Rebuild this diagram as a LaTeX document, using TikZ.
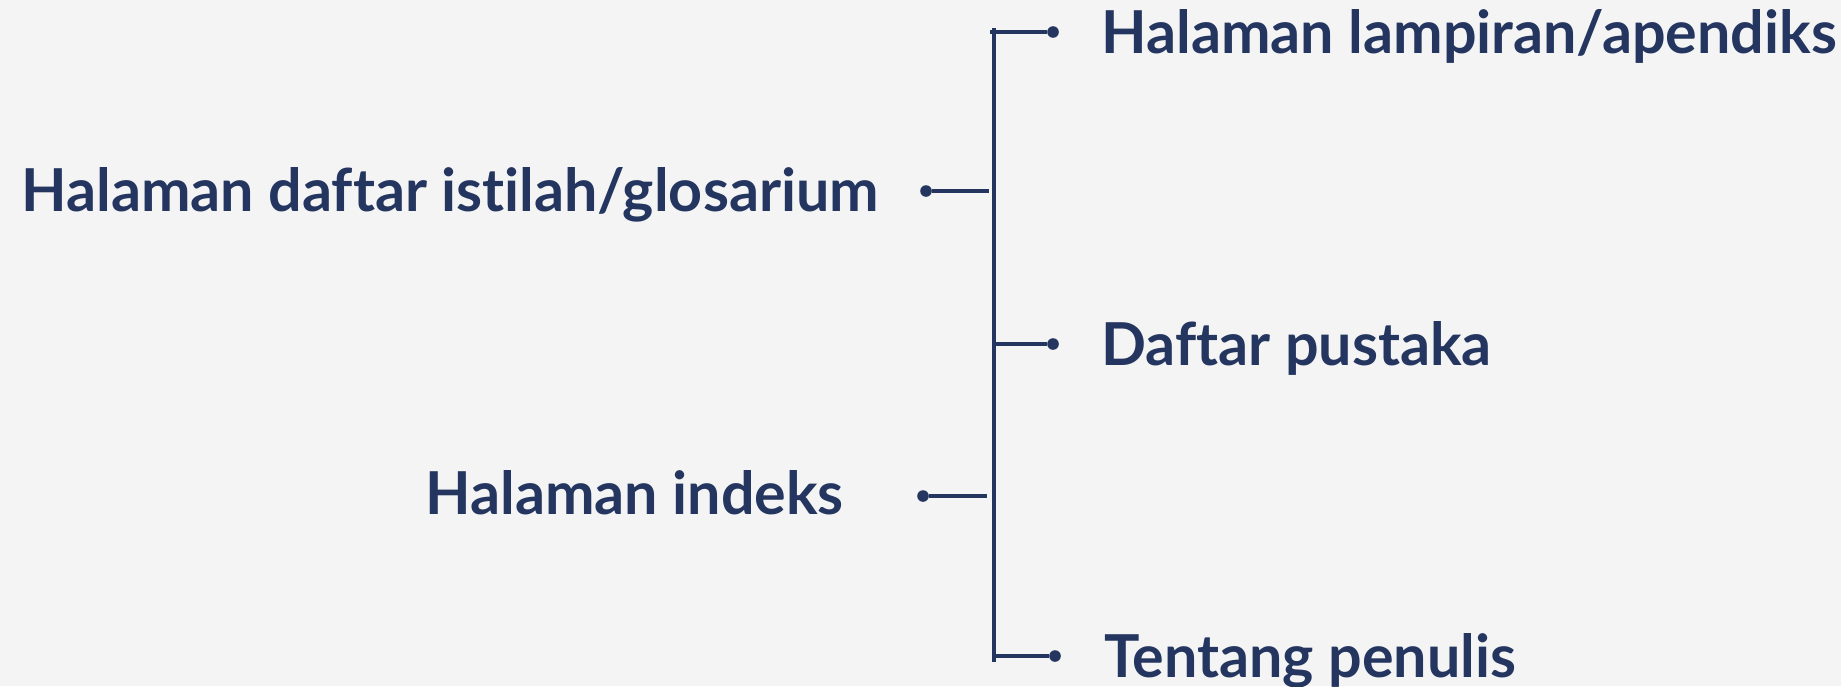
\documentclass[tikz,border=0pt]{standalone}
\usepackage{fontspec}
\setmainfont{Lato}[Ligatures={NoCommon}]
\definecolor{navy}{HTML}{243660}
\definecolor{paper}{HTML}{F4F4F4}
\begin{document}
\begin{tikzpicture}[x=0.5pt,y=-0.5pt,
  lbl/.style={font=\fontsize{29.6}{34}\selectfont\bfseries, text=navy, inner sep=0pt},
  dot/.style={circle, fill=navy, inner sep=0pt, minimum size=5.8pt},
  link/.style={draw=navy, line width=1.6pt}]
  \fill[paper] (0,0) rectangle (1841,686);
  \useasboundingbox (0,0) rectangle (1841,686);

  % spine
  \coordinate (top) at (994,28);
  \coordinate (bot) at (994,662);
  \draw[link] (top) -- (bot);

  % left items
  \node[lbl, anchor=base west] (gloss) at (21,211) {Halaman daftar istilah/glosarium};
  \node[lbl, anchor=base west] (index) at (425,514) {Halaman indeks};
  \node[dot] (dg) at (926,191) {};
  \node[dot] (di) at (923,496) {};
  \coordinate (eg) at (989,191);
  \coordinate (ei) at (987,496);
  \draw[link] (dg) -- (eg);
  \draw[link] (di) -- (ei);

  % right items
  \node[lbl, anchor=base west] (app) at (1101,53) {Halaman lampiran/apendiks};
  \node[lbl, anchor=base west] (bib) at (1101,365) {Daftar pustaka};
  \node[lbl, anchor=base west] (auth) at (1104,677) {Tentang penulis};
  \node[dot] (da) at (1053,32) {};
  \node[dot] (db) at (1053,344) {};
  \node[dot] (dt) at (1055,656) {};
  \coordinate (sa) at (990,32);
  \coordinate (sb) at (994,344);
  \coordinate (st) at (994,656);
  \draw[link] (sa) -- (da);
  \draw[link] (sb) -- (db);
  \draw[link] (st) -- (dt);
\end{tikzpicture}
\end{document}
